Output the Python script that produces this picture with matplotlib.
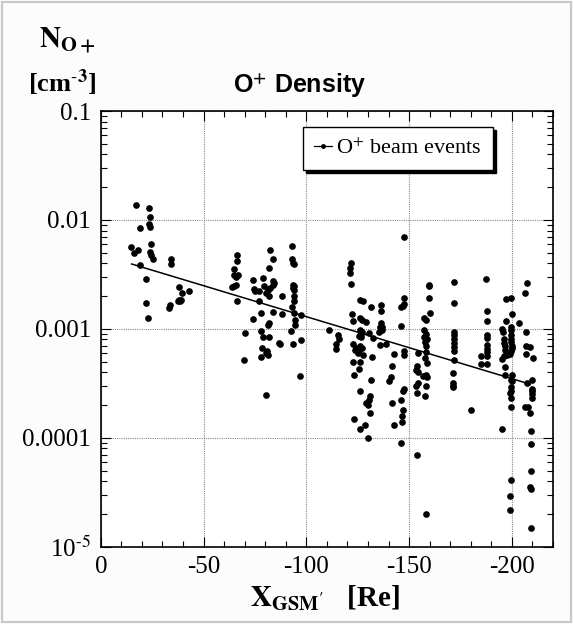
"""
plot.py
-------

O+ density versus X_GSM' (log scale) with beam events and a fitted trend.
Saves the figure to out.png.
"""

import matplotlib
matplotlib.use('Agg')
import matplotlib.pyplot as plt
from matplotlib.lines import Line2D
from matplotlib.patches import Rectangle
from matplotlib.ticker import LogLocator, MultipleLocator, FixedLocator, FixedFormatter

# --- data --------------------------------------------------------------------
# near-Earth events (about -15 to -45 Re)
x_near = [-17.1, -23.4, -24.0, -19.2, -23.3, -23.9, -14.8, -16.0, -18.2, -24.5,
          -24.0, -24.4, -25.4, -19.2, -22.0, -34.1, -34.0, -38.2, -42.8, -39.4,
          -37.9, -38.7, -37.4, -39.2, -22.1, -33.7, -33.2, -22.8]
n_near = [0.0138, 0.0130, 0.0106, 0.0085, 0.0091, 0.0087, 0.0056, 0.0050, 0.0053, 0.0060,
          0.0051, 0.0048, 0.0044, 0.00384, 0.00289, 0.0044, 0.0039, 0.00243, 0.00222, 0.00213,
          0.00185, 0.00182, 0.00180, 0.00185, 0.00172, 0.00166, 0.00154, 0.00127]

# mid-tail events (about -60 to -111 Re)
x_mid = [-66.3, -66.3, -82.1, -93.2, -92.8, -93.5, -94.1, -84.0, -81.8, -64.9,
         -65.0, -65.9, -66.5, -78.9, -73.8, -84.0, -84.5, -83.8, -93.3, -94.0,
         -93.5, -94.0, -64.0, -65.0, -66.0, -79.5, -74.3, -74.8, -76.9, -82.4,
         -81.5, -80.3, -81.6, -88.0, -94.0, -66.2, -76.9, -94.0, -92.8, -83.9,
         -88.0, -78.0, -94.1, -97.2, -74.0, -94.3, -81.8, -81.5, -94.3, -111.1,
         -70.2, -77.9, -92.7, -78.9, -81.6, -97.2, -86.5, -87.0, -93.7, -78.5,
         -81.0, -80.5, -81.3, -77.9, -69.9, -96.7, -80.6]
n_mid = [0.00481, 0.00424, 0.00531, 0.00577, 0.00436, 0.00406, 0.00395, 0.00436, 0.00360, 0.00357,
         0.00311, 0.00298, 0.00311, 0.00296, 0.00282, 0.00274, 0.00263, 0.00255, 0.00255, 0.00248,
         0.00236, 0.00228, 0.00242, 0.00248, 0.00252, 0.00248, 0.00233, 0.00222, 0.00222, 0.00236,
         0.00225, 0.00212, 0.00201, 0.00202, 0.00201, 0.00180, 0.00182, 0.00180, 0.00159, 0.00142,
         0.00138, 0.00139, 0.00141, 0.00135, 0.00124, 0.00121, 0.00114, 0.00108, 0.00109, 0.000986,
         0.000914, 0.000965, 0.000965, 0.000845, 0.000840, 0.000798, 0.000749, 0.000728, 0.000728, 0.000673,
         0.000624, 0.000598, 0.000574, 0.000557, 0.000520, 0.000368, 0.000247]

# distant-tail events (about -114 to -160 Re)
x_far = [-147.7, -121.8, -121.0, -121.0, -121.8, -159.7, -159.9, -126.2, -127.5, -147.5,
         -147.7, -146.8, -146.2, -159.7, -131.7, -136.2, -136.1, -160.0, -122.3, -126.2,
         -127.2, -122.9, -128.9, -157.4, -158.0, -136.1, -135.6, -136.6, -136.7, -135.3,
         -146.2, -126.0, -127.2, -126.5, -125.7, -126.8, -130.7, -115.6, -115.8, -157.2,
         -158.4, -157.4, -158.5, -132.3, -157.7, -158.2, -114.3, -114.3, -135.6, -138.7,
         -122.9, -124.0, -126.2, -125.5, -127.2, -127.5, -125.0, -123.8, -147.5, -147.5,
         -142.6, -131.9, -154.5, -158.0, -157.7, -158.5, -122.9, -126.0,
         -141.6, -125.7, -123.3, -154.0, -153.5, -154.1, -158.0, -158.5, -156.7, -131.7,
         -141.0, -140.1, -154.1, -153.3, -158.4, -126.0, -147.5, -147.2, -153.7, -157.6,
         -131.1, -130.4, -128.9, -130.1, -131.1, -141.5, -146.3, -147.2, -146.5, -146.5,
         -123.1, -125.9, -128.6, -142.6, -130.1, -146.3, -153.7, -158.4]
n_far = [0.00703, 0.00403, 0.00363, 0.00325, 0.00259, 0.00254, 0.00245, 0.00183, 0.00182, 0.00191,
         0.00169, 0.00163, 0.00160, 0.00191, 0.00160, 0.00166, 0.00147, 0.00141, 0.00137, 0.00127,
         0.00121, 0.00118, 0.00115, 0.00127, 0.00121, 0.00112, 0.00104, 0.00105, 0.00098, 0.00094,
         0.00106, 0.00098, 0.00094, 0.00089, 0.00086, 0.00085, 0.00091, 0.00088, 0.00081, 0.00098,
         0.00090, 0.00085, 0.00081, 0.00082, 0.00076, 0.00070, 0.00073, 0.00065, 0.00071, 0.00073,
         0.00072, 0.00067, 0.00070, 0.00064, 0.00066, 0.00058, 0.00060, 0.00064, 0.00063, 0.00057,
         0.00059, 0.00055, 0.00060, 0.00061, 0.00054, 0.00049, 0.00050, 0.00050,
         0.00046, 0.00043, 0.00038, 0.00046, 0.00042, 0.00040, 0.00038, 0.00036, 0.00037, 0.00034,
         0.00036, 0.00033, 0.00032, 0.00030, 0.00030, 0.00027, 0.00028, 0.00027, 0.00026, 0.00024,
         0.00024, 0.00022, 0.00021, 0.00020, 0.00017, 0.00021, 0.00022, 0.00018, 0.00016, 0.00014,
         0.00015, 0.00012, 0.00013, 0.00013, 0.00010, 0.0000893, 0.0000698, 0.0000200]

# far-tail events (about -170 to -210 Re)
x_tail = [-171.9, -171.9, -187.3, -207.2, -206.3, -197.1, -199.7, -187.7, -187.7, -200.1,
          -197.2, -203.3, -171.9, -171.9, -171.9, -171.9, -171.9, -171.9, -171.9,
          -187.7, -187.7, -187.7, -187.7, -187.7, -187.7, -187.7, -184.9, -184.9,
          -195.1, -195.8, -196.2, -196.2, -196.6, -196.9, -197.6, -196.2, -195.0,
          -199.5, -199.5, -199.5, -199.5, -199.5, -199.9, -200.1, -199.5, -198.9,
          -206.8, -207.0, -208.6, -206.8, -210.1,
          -171.6, -171.6, -171.6, -171.6, -196.6, -199.9, -196.6, -199.5, -200.1, -199.4,
          -199.5, -199.2, -199.5, -199.4, -180.3, -195.1, -207.2, -209.6, -209.6, -209.6,
          -209.6, -209.6, -206.5, -208.0, -208.9, -209.1, -209.1, -199.4, -199.2, -199.2,
          -209.3, -208.9, -209.4, -209.1]
n_tail = [0.00272, 0.00172, 0.00288, 0.00262, 0.00215, 0.00187, 0.00190, 0.00147, 0.00117, 0.00138,
          0.00117, 0.00112, 0.00093, 0.00087, 0.00081, 0.00074, 0.00068, 0.00062, 0.00052,
          0.00087, 0.00083, 0.00071, 0.00065, 0.00061, 0.00056, 0.00048, 0.00056, 0.00048,
          0.00099, 0.00094, 0.00081, 0.00074, 0.00069, 0.00064, 0.00057, 0.00056, 0.00053,
          0.00103, 0.00098, 0.00087, 0.00081, 0.00075, 0.00070, 0.00066, 0.00062, 0.00059,
          0.00093, 0.00069, 0.00068, 0.00059, 0.00054,
          0.00039, 0.00032, 0.00030, 0.00029, 0.00045, 0.00038, 0.00038, 0.00034, 0.00033, 0.00029,
          0.00027, 0.00026, 0.00023, 0.00019, 0.00018, 0.00012, 0.00032, 0.00034, 0.00028, 0.00027,
          0.00025, 0.00023, 0.00019, 0.00019, 0.00017, 0.000115, 0.0000875, 0.0000406, 0.0000292, 0.0000218,
          0.0000498, 0.0000350, 0.0000336, 0.0000147]

# fitted trend line end points
fit_x = [-15.0, -209.0]
fit_n = [0.00394, 0.00031]

y_ticks = [1e-5, 1e-4, 1e-3, 1e-2, 1e-1]
y_tick_labels = [r'10$^{\text{-}5}$', '0.0001', '0.001', '0.01', '0.1']
x_ticks = [0, -50, -100, -150, -200]
x_tick_labels = ['0', '-50', '-100', '-150', '-200']


def main() -> None:
    plt.rcParams['font.family'] = ['Liberation Serif', 'DejaVu Serif']
    plt.rcParams['mathtext.fontset'] = 'stix'
    plt.rcParams['axes.unicode_minus'] = False

    fig = plt.figure(figsize=(5.73, 6.24), dpi=100)
    fig.patch.set_facecolor('#fcfcfc')
    fig.patches.append(Rectangle((0.004, 0.004), 0.992, 0.992, transform=fig.transFigure,
                                 fill=False, edgecolor='#c8c8c8', lw=1.5))

    ax = fig.add_axes([0.176, 0.124, 0.789, 0.698])
    ax.set_facecolor('white')

    all_x = x_near + x_mid + x_far + x_tail
    all_n = n_near + n_mid + n_far + n_tail
    ax.plot(all_x, all_n, linestyle='none', marker='o', markersize=3.8,
            color='black', zorder=3)
    ax.plot(fit_x, fit_n, color='black', lw=1.1, zorder=3)

    ax.set_yscale('log')
    ax.set_xlim(0, -220)
    ax.set_ylim(1e-5, 0.1)

    ax.yaxis.set_major_locator(FixedLocator(y_ticks))
    ax.yaxis.set_major_formatter(FixedFormatter(y_tick_labels))
    ax.yaxis.set_minor_locator(LogLocator(base=10, subs=range(2, 10)))
    ax.xaxis.set_major_locator(FixedLocator(x_ticks))
    ax.xaxis.set_major_formatter(FixedFormatter(x_tick_labels))
    ax.xaxis.set_minor_locator(MultipleLocator(10))

    ax.tick_params(which='both', direction='in', top=True, right=True, width=0.8)
    ax.tick_params(which='major', length=7, labelsize=18, pad=7)
    ax.tick_params(which='minor', length=4)
    ax.grid(True, which='major', color='#8a8a8a', lw=0.8, linestyle=(0, (1, 1)))
    for s in ax.spines.values():
        s.set_linewidth(1.2)

    # legend shows line with a dot, as in the original
    handle = Line2D([], [], color='black', lw=0.9, marker='o', markersize=2.5)
    leg = ax.legend([handle], ['O$^{+}$ beam events'], loc='upper right',
                    bbox_to_anchor=(0.867, 0.963), borderaxespad=0, fancybox=False,
                    shadow={'color': 'black', 'alpha': 1.0}, framealpha=1,
                    edgecolor='black', fontsize=16, handlelength=0.8,
                    handletextpad=0.2, borderpad=0.5)
    leg.get_frame().set_linewidth(1.0)

    fig.text(0.523, 0.864, 'O$^{\\mathbf{+}}$ Density', ha='center', va='center',
             fontsize=18, fontweight='bold', family='Liberation Sans')
    fig.text(0.068, 0.935, r'$\mathbf{N_{O+}}$', ha='left', va='center', fontsize=21)
    fig.text(0.048, 0.868, r'[cm$^{\mathbf{\text{-}3}}$]', ha='left', va='center',
             fontsize=19, fontweight='bold')
    fig.text(0.567, 0.042, r"$\mathbf{X_{GSM'}}$   [Re]", ha='center', va='center',
             fontsize=21, fontweight='bold')

    fig.savefig('out.png', dpi=100, facecolor=fig.get_facecolor())
    plt.close(fig)


if __name__ == '__main__':
    main()
